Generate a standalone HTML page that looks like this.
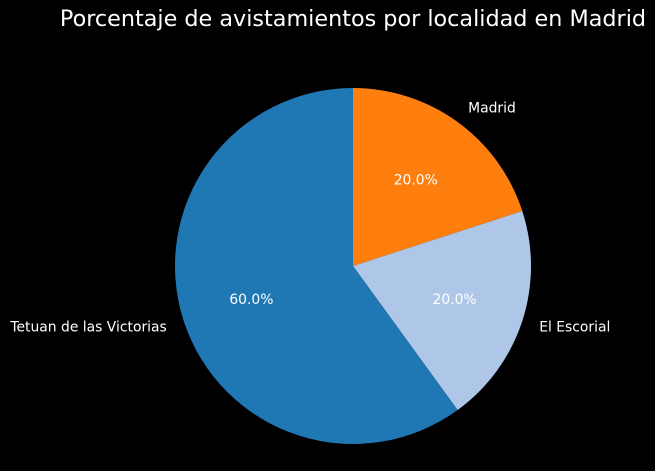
<!DOCTYPE html>
<html><head><meta charset="utf-8"><style>
html,body{margin:0;padding:0;background:#000;}
svg{display:block;font-family:"DejaVu Sans","Liberation Sans",sans-serif;}
</style></head><body>
<svg id="chart" width="655" height="471">
<rect width="655" height="471" fill="#000"/>
<text x="353" y="26" fill="#fff" font-size="22.3" text-anchor="middle">Porcentaje de avistamientos por localidad en Madrid</text>
<g id="slices"></g>
</svg>
<script>
const categories = ["Madrid", "El Escorial", "Tetuan de las Victorias"];
const values = [20, 20, 60];
const colors = ["#ff7f0e", "#aec7e8", "#1f77b4"];
const cx = 353, cy = 266, r = 178;
const ns = "http://www.w3.org/2000/svg";
const g = document.getElementById("slices");
const total = values.reduce((a, b) => a + b, 0);
let ang = 90;
function pt(a, k) { const t = a * Math.PI / 180; return [cx + k * r * Math.cos(t), cy - k * r * Math.sin(t)]; }
values.forEach((v, i) => {
  const sweep = v / total * 360;
  const a0 = ang, a1 = ang - sweep;
  const p0 = pt(a0, 1), p1 = pt(a1, 1);
  const large = sweep > 180 ? 1 : 0;
  const path = document.createElementNS(ns, "path");
  path.setAttribute("d", `M${cx},${cy} L${p0[0]},${p0[1]} A${r},${r} 0 ${large} 1 ${p1[0]},${p1[1]} Z`);
  path.setAttribute("fill", colors[i]);
  
  
  g.appendChild(path);
  const mid = (a0 + a1) / 2;
  const lp = pt(mid, 1.1);
  const lab = document.createElementNS(ns, "text");
  lab.setAttribute("x", lp[0]); lab.setAttribute("y", lp[1] + 5);
  lab.setAttribute("fill", "#fff"); lab.setAttribute("font-size", "13.9");
  lab.setAttribute("text-anchor", Math.cos(mid * Math.PI / 180) >= 0 ? "start" : "end");
  lab.textContent = categories[i];
  
  
  g.appendChild(lab);
  const pp = pt(mid, 0.6);
  const pct = document.createElementNS(ns, "text");
  pct.setAttribute("x", pp[0]); pct.setAttribute("y", pp[1] + 5);
  pct.setAttribute("fill", "#fff"); pct.setAttribute("font-size", "13.9");
  pct.setAttribute("text-anchor", "middle");
  pct.textContent = (v / total * 100).toFixed(1) + "%";
  
  
  g.appendChild(pct);
  ang = a1;
});
</script>
</body></html>
